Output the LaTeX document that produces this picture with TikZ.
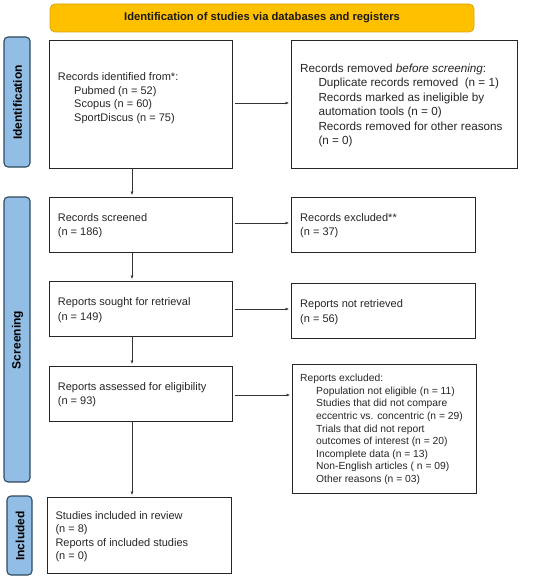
\documentclass[tikz,border=0pt]{standalone}
\usepackage{fontspec}
\setmainfont{Liberation Sans}
\usetikzlibrary{arrows.meta}
\definecolor{bannerfill}{HTML}{FFC000}
\definecolor{bannerline}{HTML}{D9A400}
\definecolor{sidefill}{HTML}{92BEE6}
\definecolor{sideline}{HTML}{2F4A60}
\tikzset{
  box/.style={draw=black!85, line width=0.9pt, fill=white},
  sidelab/.style={draw=sideline, line width=1.1pt, fill=sidefill, rounded corners=4pt},
  sidetext/.style={rotate=90, font=\fontsize{12}{14}\selectfont\bfseries, text=black},
  txt/.style={anchor=north west, align=left, inner sep=0pt, text=black!85},
  fa/.style={font=\fontsize{11}{14.8}\selectfont},
  arr/.style={-{Latex[length=3.5pt,width=3pt]}, line width=0.6pt, draw=black!80}
}
\begin{document}
\begin{tikzpicture}[x=1pt,y=-1pt]
\useasboundingbox (0,0) rectangle (550,580);
% banner
\draw[fill=bannerfill, draw=bannerline, line width=0.8pt, rounded corners=5pt] (50,4) rectangle (474,32);
\node[font=\fontsize{11.2}{13}\selectfont\bfseries, text=black!90] (banner) at (262,18) {Identification of studies via databases and registers};
% side labels
\draw[sidelab] (4,37) rectangle (30,167);
\node[sidetext] (sid) at (17.5,102.5) {Identification};
\draw[sidelab] (4,197) rectangle (30,482);
\node[sidetext] (sscr) at (17.5,340) {Screening};
\draw[sidelab] (7,496) rectangle (32,575);
\node[sidetext] (sinc) at (20,536) {Included};
% boxes
\draw[box] (49,40) rectangle (232,168);
\coordinate (b1s) at (132,168); \coordinate (b1e) at (235,103);
\node[txt, font=\fontsize{11}{13.9}\selectfont] (t1) at (57.7,72) {Records identified from*:\\\hspace{16.3pt}Pubmed (n = 52)\\\hspace{16.3pt}Scopus (n = 60)\\\hspace{16.3pt}SportDiscus (n = 75)};
\draw[box] (291,40) rectangle (517,168);
\coordinate (r1w) at (289,103);
\node[txt, font=\fontsize{11.7}{14.5}\selectfont] (t2) at (300,63.4) {Records removed \textit{before screening}:\\\hspace{18.3pt}Duplicate records removed~ (n = 1)\\\hspace{18.3pt}Records marked as ineligible by\\\hspace{18.3pt}automation tools (n = 0)\\\hspace{18.3pt}Records removed for other reasons\\\hspace{18.3pt}(n = 0)};

\draw[box] (49,197) rectangle (232,252);
\coordinate (b2n) at (132,195); \coordinate (b2s) at (132,252); \coordinate (b2e) at (235,223);
\node[txt, fa] (t3) at (57.7,213) {Records screened\\(n = 186)};
\draw[box] (291,197) rectangle (475,252);
\coordinate (r2w) at (289,223);
\node[txt, fa] (t4) at (300,213) {Records excluded**\\(n = 37)};

\draw[box] (49,281) rectangle (232,336);
\coordinate (b3n) at (132,279); \coordinate (b3s) at (132,336); \coordinate (b3e) at (235,309);
\node[txt, fa] (t5) at (57.7,297.7) {Reports sought for retrieval\\(n = 149)};
\draw[box] (291,283) rectangle (475,338);
\coordinate (r3w) at (289,309);
\node[txt, fa] (t6) at (300,299.7) {Reports not retrieved\\(n = 56)};

\draw[box] (49,366) rectangle (232,421);
\coordinate (b4n) at (132,364); \coordinate (b4s) at (132,421); \coordinate (b4e) at (235,395);
\node[txt, fa] (t7) at (57.7,382) {Reports assessed for eligibility\\(n = 93)};
\draw[box] (292,364) rectangle (476,493);
\coordinate (r4w) at (290,395);
\node[txt, font=\fontsize{10.3}{12.6}\selectfont] (t8) at (300,374) {Reports excluded:\\\hspace{16pt}Population not eligible (n = 11)\\\hspace{16pt}Studies that did not compare\\\hspace{16pt}eccentric vs. concentric (n = 29)\\\hspace{16pt}Trials that did not report\\\hspace{16pt}outcomes of interest (n = 20)\\\hspace{16pt}Incomplete data (n = 13)\\\hspace{16pt}Non-English articles ( n = 09)\\\hspace{16pt}Other reasons (n = 03)};

\draw[box] (47,497) rectangle (231,573);
\coordinate (b5n) at (132,495);
\node[txt, font=\fontsize{11}{13.6}\selectfont] (t9) at (55.3,511) {Studies included in review\\(n = 8)\\Reports of included studies\\(n = 0)};

% arrows
\draw[arr] (b1e) -- (r1w);
\draw[arr] (b1s) -- (b2n);
\draw[arr] (b2e) -- (r2w);
\draw[arr] (b2s) -- (b3n);
\draw[arr] (b3e) -- (r3w);
\draw[arr] (b3s) -- (b4n);
\draw[arr] (b4e) -- (r4w);
\draw[arr] (b4s) -- (b5n);
\end{tikzpicture}
\end{document}
